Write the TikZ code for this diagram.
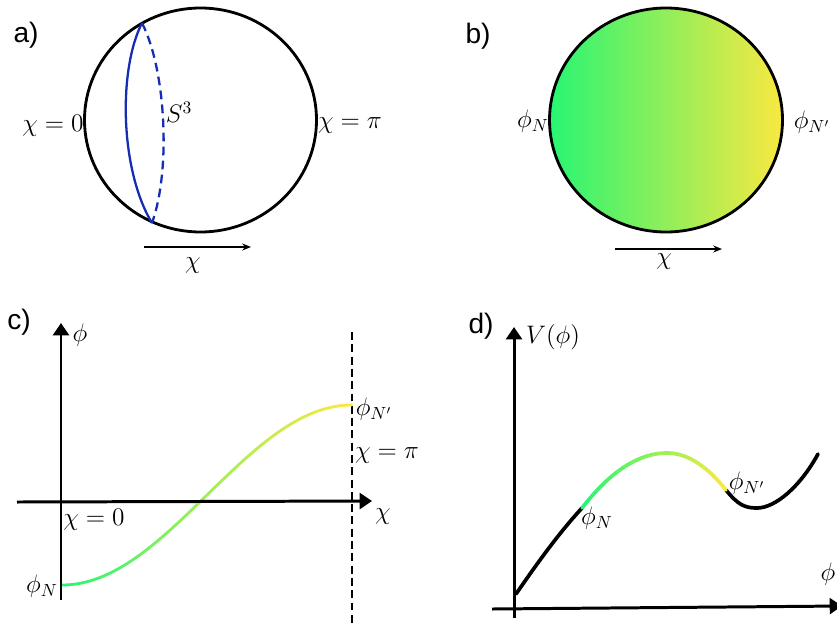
\documentclass[tikz,border=0pt]{standalone}
\usepackage{amsmath, amssymb}
\usepackage{fontspec}
\usepackage{tikz}
\usetikzlibrary{positioning, arrows.meta}
\newfontfamily\panelfont{Liberation Sans}
\definecolor{gA}{RGB}{40,245,115}
\definecolor{gB}{RGB}{160,240,85}
\definecolor{gC}{RGB}{250,232,65}
\definecolor{sblue}{RGB}{20,45,180}
\tikzset{
  rim/.style={draw, line width=1.6pt},
  sarc/.style={draw=sblue, line width=1.3pt},
  lab/.style={font=\fontsize{14}{16}\selectfont, inner sep=0pt},
  panel/.style={font=\panelfont\fontsize{16}{18}\selectfont, inner sep=0pt},
  axis/.style={-{Triangle[length=7pt,width=9pt]}, line width=1.7pt},
  harr/.style={-{Stealth[length=5pt,width=4pt]}, line width=0.9pt},
  crv/.style={line width=1.6pt, line cap=round},
  pot/.style={line width=2.1pt, line cap=round},
}

\begin{document}
\begin{tikzpicture}[x=0.02cm, y=-0.02cm]
    \useasboundingbox (0,0) rectangle (837,622);

    % a) the sphere
    \draw[rim] (200.5,120) ellipse [x radius=116, y radius=112];
    \coordinate (top) at (142,23);
    \coordinate (bot) at (152,223);
    \draw[sarc] (top) .. controls (118,70) and (120,170) .. (bot);
    \draw[sarc, dash pattern=on 5pt off 3pt] (top) .. controls (166,70) and (171,170) .. (bot);
    \node[lab] (S3)   at (179,112) {$S^3$};
    \node[lab] (a0)   at (53,126)  {$\chi=0$};
    \node[lab] (api)  at (350,126) {$\chi=\pi$};
    \coordinate (aL) at (144,247);
    \coordinate (aR) at (251,247);
    \draw[harr] (aL)--(aR);
    \node[lab] (achi) at (193,266) {$\chi$};
    \node[panel] (pa) at (26,35) {a)};

    % b) the shaded sphere
    \shade[left color=gA, middle color=gB, right color=gC] (666,120) ellipse [x radius=116.5, y radius=112];
    \draw[rim] (666,120) ellipse [x radius=116.5, y radius=112];
    \node[lab] (bN)   at (533,121) {$\phi_N$};
    \node[lab] (bNp)  at (812,122) {$\phi_{N'}$};
    \coordinate (bL) at (615,249);
    \coordinate (bR) at (722,249);
    \draw[harr] (bL)--(bR);
    \node[lab] (bchi) at (664,262) {$\chi$};
    \node[panel] (pb) at (478,36) {b)};

    % c) the field profile
    \coordinate (cO) at (61,600);
    \coordinate (cT) at (61,323);
    \coordinate (cL) at (17,502);
    \coordinate (cR) at (372,501);
    \coordinate (cU) at (352,332);
    \coordinate (cD) at (352,626);
    \draw[line width=1.1pt, dash pattern=on 4.5pt off 2.5pt] (cU)--(cD);
    \foreach \i in {0,...,29}{
      \pgfmathsetmacro\xa{62+\i*290/30}
      \pgfmathsetmacro\xb{62+(\i+1)*290/30}
      \ifnum\i<15
        \pgfmathtruncatemacro\pc{\i*100/14}
        \colorlet{segc}{gB!\pc!gA}
      \else
        \pgfmathtruncatemacro\pc{(\i-15)*100/14}
        \colorlet{segc}{gC!\pc!gB}
      \fi
      \draw[crv, segc] plot[domain=\xa:\xb, samples=5] (\x, {495+90*cos((\x-62)/290*180)});
    }
    \draw[axis] (cO)--(cT);
    \draw[axis] (cL)--(cR);
    \node[lab] (cphi) at (80,335)  {$\phi$};
    \node[lab] (cchi) at (383,517) {$\chi$};
    \node[lab] (c0)   at (94,520)  {$\chi=0$};
    \node[lab] (cNp)  at (374,409) {$\phi_{N'}$};
    \node[lab] (cpi)  at (387,456) {$\chi=\pi$};
    \node[lab] (cN)   at (42,586)  {$\phi_N$};
    \node[panel] (pc) at (19,322) {c)};

    % d) the potential
    \coordinate (dO) at (514,618);
    \coordinate (dT) at (514,327);
    \coordinate (dL) at (492,609);
    \coordinate (dR) at (842,606);
    \coordinate (dS) at (516,594);
    \coordinate (dN) at (582,508);
    \coordinate (dNp) at (726,490);
    \coordinate (dE) at (818,454);
    \draw[pot] (dS) .. controls (536,565) and (558,534) .. (dN);
    \draw[pot] (dNp) .. controls (738,505) and (745,508) .. (757,508)
                     .. controls (775,508) and (800,487) .. (dE);
    \foreach \i in {0,...,11}{
      \pgfmathsetmacro\xa{582+\i*85/12}
      \pgfmathsetmacro\xb{582+(\i+1)*85/12}
      \pgfmathtruncatemacro\pc{\i*100/11}
      \colorlet{segc}{gB!\pc!gA}
      \draw[pot, segc] plot[domain=\xa:\xb, samples=4] (\x, {453+55*((\x-667)/85)^2});
    }
    \foreach \i in {0,...,9}{
      \pgfmathsetmacro\xa{667+\i*59/10}
      \pgfmathsetmacro\xb{667+(\i+1)*59/10}
      \pgfmathtruncatemacro\pc{\i*100/9}
      \colorlet{segc}{gC!\pc!gB}
      \draw[pot, segc] plot[domain=\xa:\xb, samples=4] (\x, {453+37*((\x-667)/59)^2});
    }
    \draw[axis] (dO)--(dT);
    \draw[axis] (dL)--(dR);
    \node[lab] (dV)   at (553,337) {$V(\phi)$};
    \node[lab] (dPN)  at (597,518) {$\phi_N$};
    \node[lab] (dPNp) at (747,483) {$\phi_{N'}$};
    \node[lab] (dphi) at (828,574) {$\phi$};
    \node[panel] (pd) at (481,326) {d)};
\end{tikzpicture}
\end{document}
